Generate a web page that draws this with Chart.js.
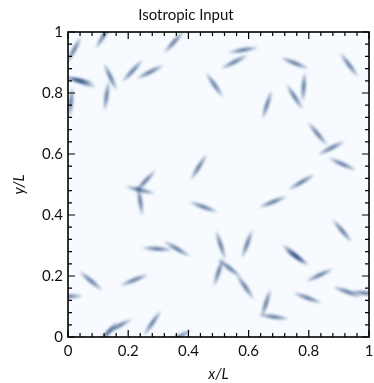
<!DOCTYPE html>
<html>
<head>
<meta charset="utf-8">
<script src="https://cdn.jsdelivr.net/npm/chart.js@4"></script>
<style>
  body { margin: 0; background: #fff; }
</style>
</head>
<body>
<canvas id="myChart" width="374" height="383"></canvas>
<script>
  // fibre centres (x/L, y/L) and orientation (degrees, counter-clockwise)
  const fiberX = [0.020, 0.118, 0.046, 0.035, 0.010, 0.141, 0.128, 0.214, 0.273, 0.352,
    0.487, 0.582, 0.553, 0.753, 0.783, 0.753, 0.661, 0.934, 0.829, 0.875,
    0.911, 0.776, 0.434, 0.240, 0.257, 0.240, 0.451, 0.296, 0.362, 0.076,
    0.220, 0.000, 0.168, 0.132, 0.280, 0.368, 0.681, 0.507, 0.536, 0.589,
    0.500, 0.595, 0.760, 0.750, 0.836, 0.911, 0.796, 0.928, 0.987, 0.658, 0.684];
  const fiberY = [0.941, 0.987, 0.836, 0.842, 0.770, 0.852, 0.790, 0.872, 0.869, 0.967,
    0.826, 0.941, 0.902, 0.898, 0.820, 0.787, 0.761, 0.892, 0.666, 0.620,
    0.567, 0.508, 0.557, 0.482, 0.511, 0.446, 0.426, 0.289, 0.289, 0.184,
    0.187, 0.134, 0.036, 0.013, 0.046, 0.000, 0.443, 0.302, 0.226, 0.164,
    0.213, 0.305, 0.262, 0.272, 0.203, 0.348, 0.128, 0.148, 0.144, 0.111, 0.066];
  const fiberAngle = [62, 58, -20, -10, 85, -65, 82, 47, 27, 48,
    -55, 10, 27, -22, 86, -57, 72, -53, -50, 27,
    -24, 30, 58, -14, 47, -82, -20, -4, -30, -40,
    22, 0, 28, 50, 55, 30, 22, -72, -38, -55,
    72, 70, -34, -40, 25, -50, -20, -20, -5, 72, -8];

  const majorTicks = [0, 0.2, 0.4, 0.6, 0.8, 1];
  const minorTicks = [];
  for (let i = 0; i <= 25; i++) minorTicks.push(i * 0.04);

  // one blurred needle used as the point image
  function makeFiber() {
    const c = document.createElement('canvas');
    c.width = 42; c.height = 14;
    const g = c.getContext('2d');
    g.filter = 'blur(0.9px)';
    g.translate(21, 7);
    g.scale(1, 0.19);
    const grad = g.createRadialGradient(0, 0, 0, 0, 0, 16);
    grad.addColorStop(0, 'rgba(8,48,107,0.72)');
    grad.addColorStop(0.5, 'rgba(8,48,107,0.4)');
    grad.addColorStop(1, 'rgba(8,48,107,0)');
    g.fillStyle = grad;
    g.beginPath();
    g.arc(0, 0, 16, 0, Math.PI * 2);
    g.fill();
    return c;
  }
  const fiberImg = makeFiber();

  const points = fiberX.map((x, i) => ({ x: x, y: fiberY[i] }));

  const framePlugin = {
    id: 'frame',
    beforeDatasetsDraw(chart) {
      const { ctx, chartArea: a } = chart;
      ctx.save();
      ctx.fillStyle = '#f7fbff';
      ctx.fillRect(a.left, a.top, a.right - a.left, a.bottom - a.top);
      ctx.restore();
    },
    afterDatasetsDraw(chart) {
      const { ctx, chartArea: a, scales } = chart;
      ctx.save();
      ctx.strokeStyle = '#000';
      ctx.lineWidth = 1.2;
      ctx.beginPath();
      const tick = (v, len) => {
        const px = scales.x.getPixelForValue(v);
        const py = scales.y.getPixelForValue(v);
        ctx.moveTo(px, a.bottom); ctx.lineTo(px, a.bottom - len);
        ctx.moveTo(px, a.top); ctx.lineTo(px, a.top + len);
        ctx.moveTo(a.left, py); ctx.lineTo(a.left + len, py);
        ctx.moveTo(a.right, py); ctx.lineTo(a.right - len, py);
      };
      minorTicks.forEach(v => tick(v, 4));
      majorTicks.forEach(v => tick(v, 7));
      ctx.stroke();
      ctx.lineWidth = 1.6;
      ctx.strokeRect(a.left, a.top, a.right - a.left, a.bottom - a.top);
      ctx.restore();
    }
  };

  const font = { family: 'Lato', size: 15 };
  const label = v => String(Math.round(v * 10) / 10);

  new Chart(document.getElementById('myChart'), {
    type: 'scatter',
    data: {
      datasets: [{
        data: points,
        pointStyle: fiberImg,
        pointRadius: 3,
        pointRotation: fiberAngle.map(a => -a),
        clip: 0
      }]
    },
    options: {
      responsive: false,
      animation: false,
      events: [],
      layout: { padding: { left: 0, right: 2, top: 0, bottom: 0 } },
      plugins: {
        legend: { display: false },
        tooltip: { enabled: false },
        title: {
          display: true,
          text: 'Isotropic Input',
          color: '#111',
          font: { family: 'Lato', size: 15, weight: 'normal' },
          padding: { top: 6, bottom: 8 }
        }
      },
      scales: {
        x: {
          type: 'linear', min: 0, max: 1,
          grid: { display: false, drawTicks: false },
          border: { display: false },
          ticks: { stepSize: 0.2, color: '#111', font: font, padding: 5, maxRotation: 0, callback: label },
          title: { display: true, text: 'x/L', color: '#111', font: { family: 'Lato', size: 15, style: 'italic' }, padding: { top: 0, bottom: 0 } },
          afterFit(scale) { scale.height = 46; scale.paddingLeft = 0; scale.paddingRight = 0; }
        },
        y: {
          type: 'linear', min: 0, max: 1,
          grid: { display: false, drawTicks: false },
          border: { display: false },
          ticks: { stepSize: 0.2, color: '#111', font: font, padding: 5, callback: label },
          title: { display: true, text: 'y/L', color: '#111', font: { family: 'Lato', size: 15, style: 'italic' }, padding: { top: 10, bottom: 0 } },
          afterFit(scale) { scale.width = 68; scale.paddingTop = 0; scale.paddingBottom = 0; }
        }
      }
    },
    plugins: [framePlugin]
  });
</script>
</body>
</html>
